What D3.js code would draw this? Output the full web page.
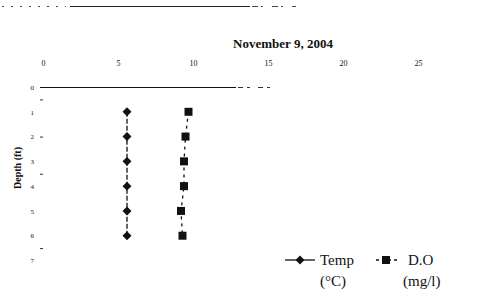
<!DOCTYPE html>
<html><head><meta charset="utf-8">
<script src="https://cdn.jsdelivr.net/npm/d3@7"></script>
<style>body{margin:0;background:#fff}svg{display:block}text{font-family:"Liberation Serif","DejaVu Serif",serif;fill:#111}</style>
</head><body>
<svg id="c" width="486" height="301"></svg>
<script>
const depths = [1, 2, 3, 4, 5, 6];
const tempC = [5.6, 5.6, 5.6, 5.6, 5.6, 5.6];
const doMgL = [9.7, 9.5, 9.4, 9.4, 9.2, 9.3];
const xTicks = [0, 5, 10, 15, 20, 25];
const yTicks = [0, 1, 2, 3, 4, 5, 6, 7];
const title = "November 9, 2004";

const svg = d3.select("#c");
const x = d3.scaleLinear().domain([0, 25]).range([43, 418]);
const y = d3.scaleLinear().domain([0, 7]).range([87, 260.5]);

// decorative top rule
svg.append("line").attr("x1", 2).attr("x2", 66).attr("y1", 6.5).attr("y2", 6.5)
  .attr("stroke", "#444").attr("stroke-dasharray", "2,7");
svg.append("line").attr("x1", 70).attr("x2", 250).attr("y1", 6.5).attr("y2", 6.5)
  .attr("stroke", "#222").attr("stroke-width", 1.2);
svg.append("line").attr("x1", 252).attr("x2", 296).attr("y1", 6.5).attr("y2", 6.5)
  .attr("stroke", "#444").attr("stroke-dasharray", "6,3,2,9");

svg.append("text").attr("x", 283).attr("y", 48).attr("text-anchor", "middle")
  .attr("font-size", 13).attr("font-weight", "bold").text(title);

// x axis (top)
const gx = svg.append("g").attr("transform", "translate(0,87)")
  .call(d3.axisTop(x).tickValues(xTicks).tickSize(0).tickPadding(21).tickFormat(d3.format("d")));
gx.select(".domain").remove();
gx.selectAll("text").attr("font-size", 8);
svg.append("line").attr("x1", 40).attr("x2", 236).attr("y1", 87.5).attr("y2", 87.5)
  .attr("stroke", "#111").attr("stroke-width", 1.2);
svg.append("line").attr("x1", 238).attr("x2", 274).attr("y1", 87.5).attr("y2", 87.5)
  .attr("stroke", "#333").attr("stroke-dasharray", "5,4,3,8");

// y axis labels
const gy = svg.append("g").attr("transform", "translate(34,0)")
  .call(d3.axisLeft(y).tickValues(yTicks).tickSize(0).tickPadding(0).tickFormat(d3.format("d")));
gy.select(".domain").remove();
gy.selectAll("text").attr("font-size", 7);
// small minor ticks
svg.selectAll(".mt").data([0.5, 2, 3.5, 6.5]).join("line")
  .attr("x1", 40).attr("x2", 43).attr("y1", d => y(d) + 0.5).attr("y2", d => y(d) + 0.5)
  .attr("stroke", "#333");

svg.append("text").attr("transform", "translate(21,168) rotate(-90)")
  .attr("text-anchor", "middle").attr("font-size", 10).attr("font-weight", "bold").text("Depth (ft)");

// Temp series
const tData = depths.map((d, i) => [tempC[i], d]);
svg.append("path").datum(tData)
  .attr("d", d3.line().x(d => x(d[0])).y(d => y(d[1])))
  .attr("fill", "none").attr("stroke", "#111").attr("stroke-width", 1.3).attr("stroke-dasharray", "5,2");
const diamond = d3.symbol().type(d3.symbolSquare).size(40);
svg.selectAll(".tp").data(tData).join("path")
  .attr("transform", d => `translate(${x(d[0])},${y(d[1])}) rotate(45)`).attr("d", diamond).attr("fill", "#111");

// DO series
const oData = depths.map((d, i) => [doMgL[i], d]);
svg.append("path").datum(oData)
  .attr("d", d3.line().x(d => x(d[0])).y(d => y(d[1])))
  .attr("fill", "none").attr("stroke", "#111").attr("stroke-width", 1.3).attr("stroke-dasharray", "3,4");
const sq = d3.symbol().type(d3.symbolSquare).size(64);
svg.selectAll(".op").data(oData).join("path")
  .attr("transform", d => `translate(${x(d[0])},${y(d[1])})`).attr("d", sq).attr("fill", "#111");

// legend
const lg = svg.append("g");
lg.append("line").attr("x1", 285).attr("x2", 315).attr("y1", 260).attr("y2", 260).attr("stroke", "#111").attr("stroke-width", 1.3);
lg.append("path").attr("transform", "translate(300,260) rotate(45)").attr("d", diamond).attr("fill", "#111");
lg.append("text").attr("x", 320).attr("y", 265).attr("font-size", 15).text("Temp");
lg.append("text").attr("x", 320).attr("y", 286).attr("font-size", 15).text("(°C)");
lg.append("line").attr("x1", 376).attr("x2", 398).attr("y1", 260).attr("y2", 260).attr("stroke", "#111").attr("stroke-width", 1.3).attr("stroke-dasharray", "3,3");
lg.append("path").attr("transform", "translate(386,260)").attr("d", sq).attr("fill", "#111");
lg.append("text").attr("x", 408).attr("y", 265).attr("font-size", 15).text("D.O");
lg.append("text").attr("x", 403).attr("y", 286).attr("font-size", 15).text("(mg/l)");
</script>
</body></html>
